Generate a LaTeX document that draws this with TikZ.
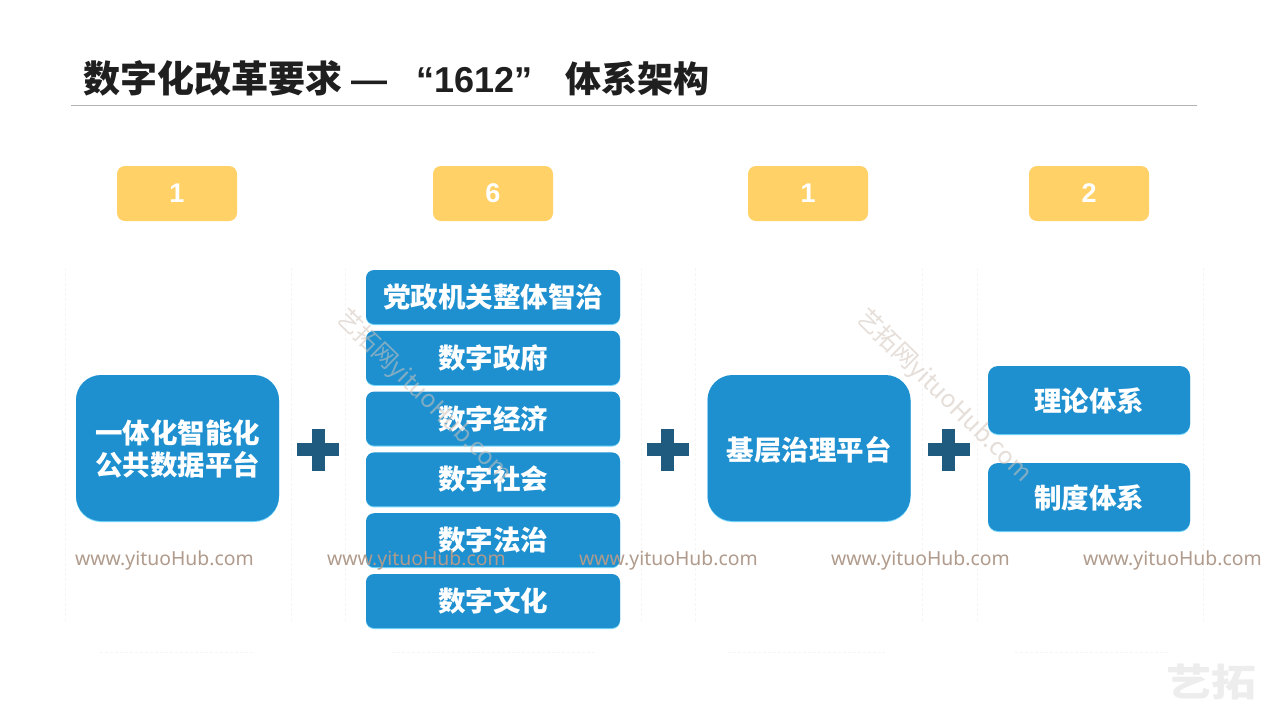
\documentclass[tikz,border=0pt]{standalone}
\usepackage{fontspec}
\usepackage{tikz}
\usetikzlibrary{positioning}
\setmainfont{Noto Sans CJK SC}
\newfontfamily\latinfont{Liberation Sans}
\newfontfamily\markfont{Noto Sans}
\definecolor{blue}{RGB}{30, 144, 208}
\definecolor{yellow}{RGB}{255, 209, 102}
\definecolor{plusblue}{RGB}{31, 91, 126}
\definecolor{mark}{RGB}{176, 155, 140}
\definecolor{glow}{RGB}{120, 215, 250}
\newcommand{\lowered}[2]{\raisebox{-#1}[\height][\depth]{#2}}
\tikzstyle{badge} = [rectangle, rounded corners=8pt, fill=yellow, text=white, inner sep=0pt, outer sep=0pt, font=\latinfont\bfseries\fontsize{27}{27}\selectfont, minimum width=120pt, minimum height=55pt]
\tikzstyle{bluebox} = [rectangle, fill=blue, preaction={fill=glow, transform canvas={yshift=-1pt}}, text=white, inner sep=0pt, outer sep=0pt]
\tikzstyle{bigbox} = [bluebox, rounded corners=25pt, align=center, font=\bfseries\fontsize{27.5}{32.5}\selectfont, minimum width=203pt, minimum height=146pt]
\tikzstyle{item} = [bluebox, rounded corners=8pt, font=\bfseries\fontsize{27.5}{27.5}\selectfont, minimum width=254pt, minimum height=54pt]
\tikzstyle{sidebox} = [bluebox, rounded corners=10pt, font=\bfseries\fontsize{27.5}{27.5}\selectfont, minimum width=202pt, minimum height=68pt]
\tikzstyle{plusbar} = [rectangle, fill=plusblue, inner sep=0pt]
\tikzstyle{panel} = [rectangle, inner sep=0pt, outer sep=0pt, minimum height=404pt]
\tikzstyle{paneledge} = [draw=black!4, densely dashed, line width=0.6pt]
\tikzstyle{urlmark} = [text=mark, inner sep=0pt, font=\markfont\fontsize{19.4}{19.4}\selectfont]
\tikzstyle{diagmark} = [text=mark!60, opacity=0.55, rotate=-44.5, inner sep=0pt, font=\fontsize{24.4}{24.4}\selectfont]
\begin{document}
\begin{tikzpicture}[auto]
\path[use as bounding box, fill=white] (0,0) rectangle (1265pt,-710pt);

% title =============================
\node[anchor=west, inner sep=0pt, text=black!88, font=\bfseries\fontsize{37}{37}\selectfont] (title) at (83pt,-78pt) {数字化改革要求\hspace{9pt}{\latinfont\fontsize{36}{36}\selectfont —\hspace{29pt}“1612”}\hspace{33pt}{\fontsize{36}{36}\selectfont 体系架构}};
\draw[black!30, line width=0.8pt] (71pt,-105.5pt) coordinate (rulea) -- (1197pt,-105.5pt) coordinate (ruleb);

% faint panels
\node[panel, minimum width=226pt] (panel1) at (178pt,-450pt) {};
\node[panel, minimum width=296pt] (panel2) at (493pt,-450pt) {};
\node[panel, minimum width=227pt] (panel3) at (808.5pt,-450pt) {};
\node[panel, minimum width=226pt] (panel4) at (1090pt,-450pt) {};

\path[paneledge] ([yshift=-20pt]panel1.north west) -- ([yshift=30pt]panel1.south west);
\path[paneledge] ([yshift=-20pt]panel1.north east) -- ([yshift=30pt]panel1.south east);
\path[paneledge] ([xshift=35pt]panel1.south west) -- ([xshift=-36pt]panel1.south east);
\path[paneledge] ([yshift=-20pt]panel2.north west) -- ([yshift=30pt]panel2.south west);
\path[paneledge] ([yshift=-20pt]panel2.north east) -- ([yshift=30pt]panel2.south east);
\path[paneledge] ([xshift=47pt]panel2.south west) -- ([xshift=-46pt]panel2.south east);
\path[paneledge] ([yshift=-20pt]panel3.north west) -- ([yshift=30pt]panel3.south west);
\path[paneledge] ([yshift=-20pt]panel3.north east) -- ([yshift=30pt]panel3.south east);
\path[paneledge] ([xshift=33pt]panel3.south west) -- ([xshift=-37pt]panel3.south east);
\path[paneledge] ([yshift=-20pt]panel4.north west) -- ([yshift=30pt]panel4.south west);
\path[paneledge] ([yshift=-20pt]panel4.north east) -- ([yshift=30pt]panel4.south east);
\path[paneledge] ([xshift=38pt]panel4.south west) -- ([xshift=-33pt]panel4.south east);

% badges
\node[badge] (num1) at (177pt,-193.5pt) {1};
\node[badge, right=196pt of num1] (num2) {6};
\node[badge, right=195pt of num2] (num3) {1};
\node[badge, right=161pt of num3] (num4) {2};

% first column
\node[bigbox] (cloud) at (177.5pt,-448pt) {\lowered{1pt}{一体化智能化}\\\lowered{1pt}{公共数据平台}};

% six items
\node[item] (item1) at (493pt,-297pt) {党政机关整体智治};
\node[item, below=6.8pt of item1] (item2) {数字政府};
\node[item, below=6.8pt of item2] (item3) {数字经济};
\node[item, below=6.8pt of item3] (item4) {数字社会};
\node[item, below=6.8pt of item4] (item5) {数字法治};
\node[item, below=6.8pt of item5] (item6) {数字文化};

% base platform
\node[bigbox] (base) at (809pt,-448pt) {\lowered{2pt}{基层治理平台}};

% two systems
\node[sidebox] (theory) at (1089pt,-400pt) {\lowered{1pt}{理论体系}};
\node[sidebox, below=29pt of theory] (rules) {\lowered{1pt}{制度体系}};

% plus signs
\node[plusbar, minimum width=42pt, minimum height=13pt] (plus1h) at (318pt,-449.5pt) {};
\node[plusbar, minimum width=13pt, minimum height=42pt] (plus1v) at (318pt,-449.5pt) {};
\node[plusbar, minimum width=42pt, minimum height=13pt] (plus2h) at (667.5pt,-449.5pt) {};
\node[plusbar, minimum width=13pt, minimum height=42pt] (plus2v) at (667.5pt,-449.5pt) {};
\node[plusbar, minimum width=42pt, minimum height=13pt] (plus3h) at (948.5pt,-449.5pt) {};
\node[plusbar, minimum width=13pt, minimum height=42pt] (plus3v) at (948.5pt,-449.5pt) {};

% watermarks
\node[urlmark, anchor=west] (url1) at (75pt,-560pt) {www.yituoHub.com};
\node[urlmark, anchor=west] (url2) at (327pt,-560pt) {www.yituoHub.com};
\node[urlmark, anchor=west] (url3) at (579pt,-560pt) {www.yituoHub.com};
\node[urlmark, anchor=west] (url4) at (831pt,-560pt) {www.yituoHub.com};
\node[urlmark, anchor=west] (url5) at (1083pt,-560pt) {www.yituoHub.com};
\node[diagmark] (diag1) at (424pt,-396pt) {艺拓网yituoHub.com};
\node[diagmark] (diag2) at (944pt,-396pt) {艺拓网yituoHub.com};
\node[anchor=center, inner sep=0pt, text=black!7, xscale=1.18, transform shape, font=\bfseries\fontsize{38}{38}\selectfont] (logo) at (1211pt,-682pt) {艺拓};

\end{tikzpicture}
\end{document}
